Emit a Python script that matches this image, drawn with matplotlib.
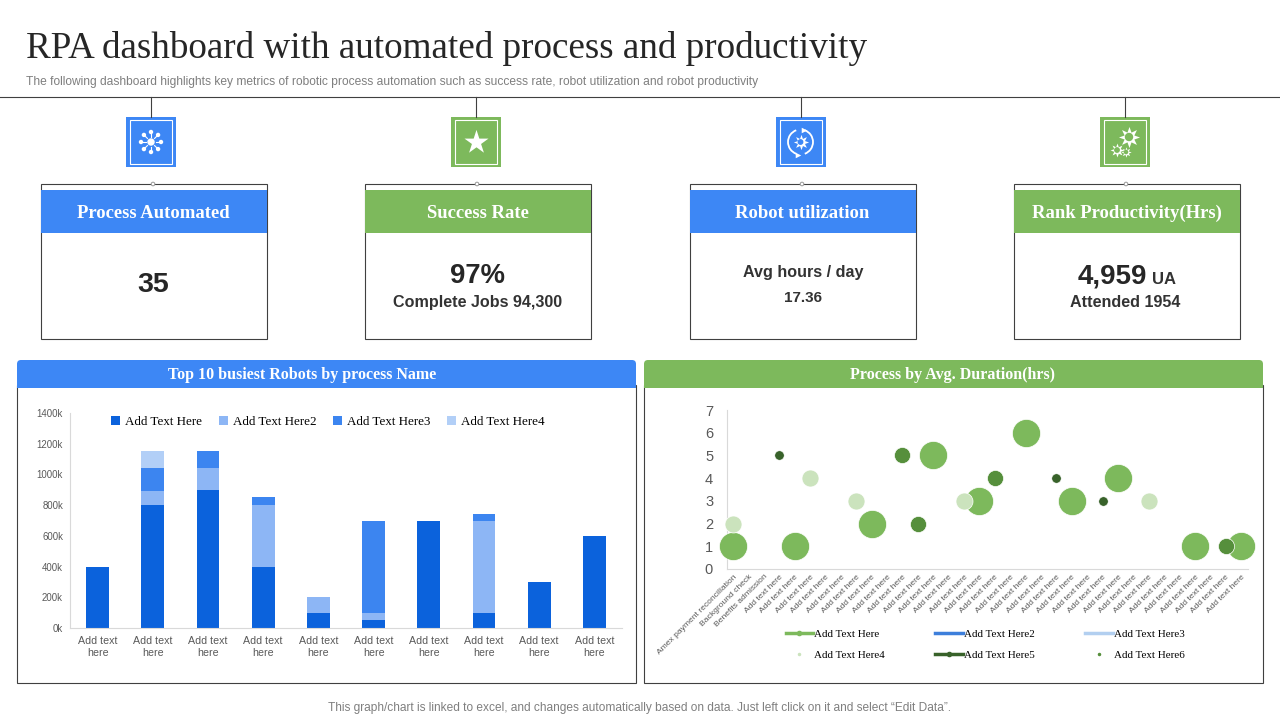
#!/usr/bin/env python3
"""RPA dashboard: KPI cards, stacked bar chart and bubble chart."""
import numpy as np
import matplotlib
matplotlib.use('Agg')
import matplotlib.pyplot as plt
from matplotlib.lines import Line2D
from matplotlib.patches import Arc, Circle, FancyBboxPatch, Rectangle

SERIF = 'Liberation Serif'
SANS = 'Liberation Sans'
BLUE = '#3D87F5'
GREEN = '#7DB95C'
INK = '#262626'
GREY = '#7F7F7F'

# --- data: stacked bars ---
bar_labels = ['Add text\nhere'] * 10
bar_series_names = ['Add Text Here', 'Add Text Here2', 'Add Text Here3', 'Add Text Here4']
bar_s1 = [400, 800, 900, 400, 100, 50, 700, 100, 300, 600]
bar_s2 = [0, 95, 145, 400, 100, 50, 0, 600, 0, 0]
bar_s3 = [0, 150, 105, 50, 0, 600, 0, 45, 0, 0]
bar_s4 = [0, 105, 0, 0, 0, 0, 0, 0, 0, 0]
bar_ticks = [0, 200, 400, 600, 800, 1000, 1200, 1400]

# --- data: bubbles ---
bubble_labels = ['Amex payment reconciliation', 'Background check', 'Benefits admission'] \
    + ['Add text here'] * 31
s1_x = [0, 4, 9, 13, 16, 19, 22, 25, 30, 33]
s1_y = [1, 1, 2, 5, 3, 6, 3, 4, 1, 1]
s4_x = [0, 5, 8, 15, 27]
s4_y = [2, 4, 3, 3, 3]
s5_x = [11, 12, 17, 32]
s5_y = [5, 2, 4, 1]
s6_x = [3, 21, 24]
s6_y = [5, 4, 3]

# --- data: text ---
title = 'RPA dashboard with automated process and productivity'
subtitle = ('The following dashboard highlights key metrics of robotic process automation '
            'such as success rate, robot utilization and robot productivity')
footer = ('This graph/chart is linked to excel, and changes automatically based on data. '
          'Just left click on it and select \u201cEdit Data\u201d.')
card_titles = ['Process Automated', 'Success Rate', 'Robot utilization', 'Rank Productivity(Hrs)']

W, H = 1280, 720
fig = plt.figure(figsize=(W / 100, H / 100), dpi=100, facecolor='white')
bg = fig.add_axes([0, 0, 1, 1])
bg.set_xlim(0, W)
bg.set_ylim(H, 0)
bg.axis('off')


def px_axes(left, top, right, bottom):
    """Axes placed by pixel edges, y measured from the top of the image."""
    return fig.add_axes([left / W, 1 - bottom / H, (right - left) / W, (bottom - top) / H])


def draw_network(cx, cy):
    bg.add_patch(Circle((cx, cy), 3, color='white'))
    for a in np.deg2rad(np.arange(0, 360, 45)):
        c, s = np.cos(a), np.sin(a)
        bg.plot([cx + 5 * c, cx + 8 * c], [cy + 5 * s, cy + 8 * s], color='white', lw=0.8)
        bg.add_patch(Circle((cx + 10 * c, cy + 10 * s), 1.5, color='white'))


def draw_star(cx, cy):
    bg.scatter([cx], [cy], marker='*', s=330, color='white', linewidths=0)


def draw_cycle(cx, cy):
    bg.add_patch(Arc((cx, cy), 25, 25, theta1=110, theta2=250, color='white', lw=1.3))
    bg.add_patch(Arc((cx, cy), 25, 25, theta1=290, theta2=70, color='white', lw=1.3))
    bg.scatter([cx + 3, cx - 3], [cy - 12.5, cy + 12.5], marker='>', s=16, color='white', linewidths=0)
    bg.scatter([cx], [cy], marker=(8, 1, 0), s=120, color='white', linewidths=0)
    bg.add_patch(Circle((cx, cy), 2.2, color=BLUE))


def draw_gears(cx, cy):
    for dx, dy, size, hole in [(4, -5, 230, 3.5), (-8, 8, 100, 2.2), (1, 10, 55, 1.6)]:
        bg.scatter([cx + dx], [cy + dy], marker=(8, 1, 0), s=size, color='white', linewidths=0)
        bg.add_patch(Circle((cx + dx, cy + dy), hole, color=GREEN, zorder=3))


# --- header ---
bg.text(26, 49, title, family=SERIF, fontsize=26.7, color=INK, va='center', ha='left')
bg.text(26, 81.5, subtitle, family=SANS, fontsize=8.62, color=GREY, va='center', ha='left')
bg.plot([0, W], [97, 97], color='#404040', lw=0.8)
bg.text(639.5, 708.5, footer, family=SANS, fontsize=8.6, color=GREY, va='center', ha='center')

# --- KPI cards ---
card_lefts = [41, 365, 690, 1014]
card_colors = [BLUE, GREEN, BLUE, GREEN]
icon_xs = [151, 476, 800.5, 1125]
icons = [draw_network, draw_star, draw_cycle, draw_gears]
for left, color, name, icon_x, icon in zip(card_lefts, card_colors, card_titles, icon_xs, icons):
    mid = left + 112
    bg.plot([icon_x, icon_x], [97, 117], color='#404040', lw=0.8)
    bg.add_patch(Rectangle((icon_x - 25, 117), 50, 50, fc=color, ec='none'))
    bg.add_patch(Rectangle((icon_x - 21, 120), 42, 44, fc='none', ec='white', lw=0.8))
    icon(icon_x, 142)
    bg.add_patch(Rectangle((left, 184), 225.5, 154.5, fc='white', ec='#404040', lw=0.8))
    bg.add_patch(Rectangle((left, 190), 225.5, 43, fc=color, ec='none'))
    bg.add_patch(Circle((mid, 184), 1.8, fc='white', ec='#999999', lw=0.7, zorder=4))
    bg.text(mid + 0.5, 213.5, name, family=SERIF, weight='bold', fontsize=13.4, color='white',
            ha='center', va='center')

bg.text(153, 285.5, '35', family=SANS, weight='bold', fontsize=20.5, color=INK, ha='center', va='center')
bg.text(477.5, 276, '97%', family=SANS, weight='bold', fontsize=19.8, color=INK, ha='center', va='center')
bg.text(478, 302.5, 'Complete Jobs 94,300', family=SANS, weight='bold', fontsize=11.6, color='#333333',
        ha='center', va='center')
bg.text(803, 272.5, 'Avg hours / day', family=SANS, weight='bold', fontsize=11.6, color='#333333',
        ha='center', va='center')
bg.text(803, 298, '17.36', family=SANS, weight='bold', fontsize=11, color='#333333',
        ha='center', va='center')
bg.text(1147, 276, '4,959', family=SANS, weight='bold', fontsize=20, color=INK, ha='right', va='center')
bg.text(1152, 279, 'UA', family=SANS, weight='bold', fontsize=12, color='#333333', ha='left', va='center')
bg.text(1125, 302.5, 'Attended 1954', family=SANS, weight='bold', fontsize=11.6, color='#333333',
        ha='center', va='center')

# --- chart panels ---
for left, text_x, color, name in [(17, 302, BLUE, 'Top 10 busiest Robots by process Name'),
                                  (644, 953, GREEN, 'Process by Avg. Duration(hrs)')]:
    bg.add_patch(Rectangle((left, 385), 618.5, 297.5, fc='white', ec='#404040', lw=0.8))
    bg.add_patch(FancyBboxPatch((left + 4, 364), 611, 20, boxstyle='round,pad=4', fc=color, ec='none'))
    bg.add_patch(Rectangle((left, 378), 619, 10, fc=color, ec='none'))
    bg.text(text_x, 375, name, family=SERIF, weight='bold', fontsize=11.5, color='white',
            ha='center', va='center')

# --- stacked bars ---
ax1 = px_axes(70, 413, 622, 628)
x = np.arange(len(bar_labels))
bar_colors = ['#0B62DC', '#8DB6F5', '#3C85F0', '#B2CFF7']
bottom = np.zeros(len(bar_labels))
for vals, name, color in zip([bar_s1, bar_s2, bar_s3, bar_s4], bar_series_names, bar_colors):
    ax1.bar(x, vals, 0.41, bottom=bottom, color=color, label=name)
    bottom += np.array(vals)
ax1.set_xlim(-0.5, 9.5)
ax1.set_ylim(0, 1400)
ax1.set_yticks(bar_ticks)
ax1.set_yticklabels([f'{t}k' for t in bar_ticks], family=SANS, fontsize=6.9, color='#595959')
ax1.set_xticks(x)
ax1.set_xticklabels(bar_labels, family=SANS, fontsize=7.7, color='#595959', linespacing=1.25)
ax1.tick_params(axis='x', length=0, pad=6)
ax1.tick_params(axis='y', length=0, pad=5)
for side in ['top', 'right']:
    ax1.spines[side].set_visible(False)
for side in ['left', 'bottom']:
    ax1.spines[side].set_color('#D9D9D9')
ax1.legend(loc='center', bbox_to_anchor=(0.467, 0.96), ncol=4, frameon=False, handlelength=0.7,
           handleheight=0.7, columnspacing=1.25, handletextpad=0.4,
           prop={'family': SERIF, 'size': 9.4})

# --- bubbles ---
ax2 = px_axes(727, 410, 1248, 569)
ax2.patch.set_alpha(0)
green_big, green_pale, green_mid, green_dark = GREEN, '#CBE3BD', '#568F3C', '#38622A'
ax2.scatter(s1_x, s1_y, s=410, color=green_big, edgecolors='white', linewidths=0.5, clip_on=False, zorder=3)
ax2.scatter(s4_x, s4_y, s=150, color=green_pale, edgecolors='white', linewidths=0.5, clip_on=False, zorder=4)
ax2.scatter(s5_x, s5_y, s=135, color=green_mid, edgecolors='white', linewidths=0.5, clip_on=False, zorder=4)
ax2.scatter(s6_x, s6_y, s=45, color=green_dark, edgecolors='white', linewidths=0.3, clip_on=False, zorder=4)
ax2.set_xlim(-0.4, len(bubble_labels) - 0.55)
ax2.set_ylim(0, 7)
ax2.set_yticks(range(8))
ax2.set_yticklabels(range(8), family=SANS, fontsize=10.5, color='#595959')
ax2.set_xticks(range(len(bubble_labels)))
ax2.set_xticklabels(bubble_labels, family=SANS, fontsize=6.1, color='#595959', rotation=45,
                    ha='right', rotation_mode='anchor')
ax2.tick_params(length=0, pad=3)
ax2.tick_params(axis='y', pad=10)
for side in ['top', 'right']:
    ax2.spines[side].set_visible(False)
for side in ['left', 'bottom']:
    ax2.spines[side].set_color('#D9D9D9')

handles = [
    Line2D([], [], color=GREEN, lw=2.5, marker='o', ms=3, label='Add Text Here'),
    Line2D([], [], color='none', marker='o', ms=1.5, mfc=green_pale, mec=green_pale, label='Add Text Here4'),
    Line2D([], [], color='#3D7FDB', lw=2.5, label='Add Text Here2'),
    Line2D([], [], color=green_dark, lw=2.5, marker='o', ms=3, label='Add Text Here5'),
    Line2D([], [], color='#B2CFF0', lw=2.5, label='Add Text Here3'),
    Line2D([], [], color='none', marker='o', ms=1.5, mfc=green_mid, mec=green_mid, label='Add Text Here6'),
]
fig.legend(handles=handles, loc='center', bbox_to_anchor=(985 / W, 1 - 644.5 / H), ncol=3, frameon=False,
           handlelength=2.5, handletextpad=0.1, columnspacing=4.6, labelspacing=1.05,
           prop={'family': SERIF, 'size': 7.9})

fig.savefig('out.png', dpi=100)
